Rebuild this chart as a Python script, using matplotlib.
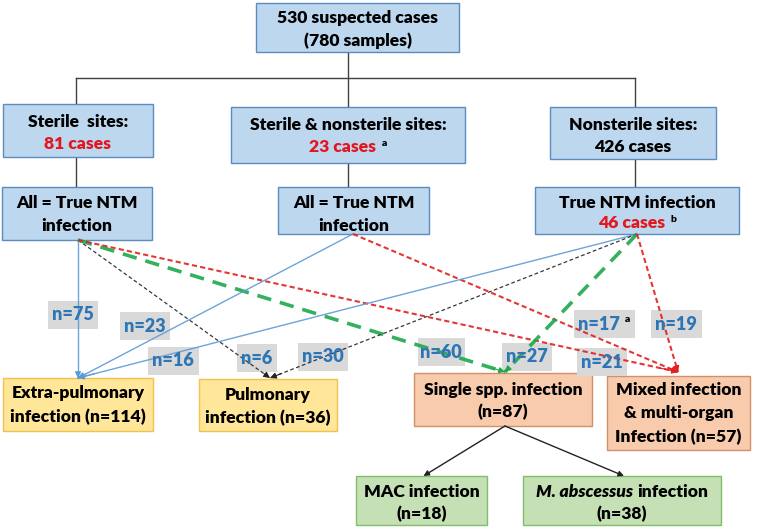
import matplotlib
matplotlib.use("Agg")
import matplotlib.pyplot as plt
from matplotlib.patches import Rectangle

plt.rcParams['font.family'] = ['Lato', 'DejaVu Sans']

# ---- data ----
top_lines = ["530 suspected cases", "(780 samples)"]
site_titles = ["Sterile  sites:", "Sterile & nonsterile sites:", "Nonsterile sites:"]
site_cases = ["81 cases", "23 cases", "426 cases"]
site_case_red = [True, True, False]
site_case_sup = ["", "a", ""]
ntm_lines = [["All = True NTM", "infection"], ["All = True NTM", "infection"], ["True NTM infection", "46 cases"]]
ntm_sup = ["", "", "b"]
outcome_lines = [["Extra-pulmonary", "infection (n=114)"],
                 ["Pulmonary", "infection (n=36)"],
                 ["Single spp. infection", "(n=87)"],
                 ["Mixed infection", "& multi-organ", "Infection (n=57)"]]
species_lines = [["MAC infection", "(n=18)"], ["M. abscessus", "(n=38)"]]

# edges from site group (0,1,2) to outcome (0..3) with counts
edge_src = [0, 0, 0, 0, 1, 1, 2, 2, 2, 2]
edge_dst = [0, 1, 2, 3, 0, 3, 0, 1, 2, 3]
edge_n = [75, 6, 60, 21, 23, 17, 16, 30, 27, 19]
edge_sup = ["", "", "", "", "", "a", "", "", "", ""]

# ---- layout (pixel units) ----
W, H = 759, 531
top_box = (256, 3, 459, 52)
site_boxes = [(3, 104, 153, 157), (231, 107, 465, 163), (550, 107, 716, 159)]
ntm_boxes = [(2, 187, 152, 240), (278, 187, 429, 234), (535, 187, 739, 234)]
out_boxes = [(3, 378, 153, 431), (199, 379, 337, 431), (414, 373, 592, 426), (607, 376, 750, 450)]
spec_boxes = [(356, 476, 487, 525), (523, 476, 721, 525)]
src_pts = [(78, 240), (353, 234), (637, 234)]
dst_pts = [(78, 378), (270, 378), (505, 372), (678, 372)]
label_pos = [(73, 315), (257, 358), (441, 352), (602, 362), (145, 326),
             (604, 324), (173, 361), (323, 357), (527, 357), (676, 324)]
label_w = [50, 40, 47, 50, 50, 61, 51, 50, 50, 51]

BLUE = ('#BDD7EE', '#5B8BC0')
YEL = ('#FFE699', '#F2C14E')
ORA = ('#F8CBAD', '#D39068')
GRN = ('#C5E0B4', '#82BD6C')
RED = '#E3161F'
LBLUE = '#2E75B6'
edge_style = {0: dict(color='#5B9BD5', lw=1.0, ls='-'),
              1: dict(color='#222222', lw=0.9, ls=(0, (3, 2))),
              2: dict(color='#1FA84A', lw=2.6, ls=(0, (4, 2.5))),
              3: dict(color='#E32020', lw=1.5, ls=(0, (2.5, 1.5)))}

fig = plt.figure(figsize=(W / 100, H / 100), dpi=100)
ax = fig.add_axes([0, 0, 1, 1])
ax.set_xlim(0, W)
ax.set_ylim(H, 0)
ax.axis('off')
fig.canvas.draw()
renderer = fig.canvas.get_renderer()

FS = 12.6
WT = 'heavy'


def box(b, colors):
    x0, y0, x1, y1 = b
    ax.add_patch(Rectangle((x0, y0), x1 - x0, y1 - y0, facecolor=colors[0],
                           edgecolor=colors[1], lw=1.0, zorder=2))


def rich(x, y, segs, size=FS):
    # segs: list of (text, kwargs); centred on x, vertically centred on y
    arts = []
    for s, kw in segs:
        t = ax.text(0, y, s, fontsize=kw.get('size', size), fontweight=WT,
                    color=kw.get('color', 'black'), style=kw.get('style', 'normal'),
                    va=kw.get('va', 'center'), ha='left', zorder=6)
        arts.append((t, kw))
    widths = [t.get_window_extent(renderer).width for t, _ in arts]
    gaps = [kw.get('gap', 0) for _, kw in arts]
    total = sum(widths) + sum(gaps)
    cx = x - total / 2
    for (t, kw), w, g in zip(arts, widths, gaps):
        cx += g
        t.set_x(cx)
        if 'dy' in kw:
            t.set_y(y + kw['dy'])
        cx += w


def lines_in(b, lines, ys):
    cx = (b[0] + b[2]) / 2
    for ln, yy in zip(lines, ys):
        rich(cx, yy, [(ln, {})])


# tree connectors
conn = dict(color='#404040', lw=1.0, zorder=1)
ax.plot([348, 348], [52, 107], **conn)
ax.plot([76, 635], [78, 78], **conn)
ax.plot([76, 76], [78, 104], **conn)
ax.plot([635, 635], [78, 107], **conn)
ax.plot([76, 76], [157, 187], **conn)
ax.plot([348, 348], [163, 187], **conn)
ax.plot([635, 635], [159, 187], **conn)

# boxes
box(top_box, BLUE)
lines_in(top_box, top_lines, [18, 41])
for i, b in enumerate(site_boxes):
    box(b, BLUE)
    cx = (b[0] + b[2]) / 2
    rich(cx, b[1] + 18, [(site_titles[i], {})])
    segs = [(site_cases[i], {'color': RED if site_case_red[i] else 'black'})]
    if site_case_sup[i]:
        segs.append((site_case_sup[i], {'size': 7.5, 'gap': 5, 'dy': -4}))
    rich(cx, b[1] + 40, segs)
for i, b in enumerate(ntm_boxes):
    box(b, BLUE)
    cx = (b[0] + b[2]) / 2
    rich(cx, 203, [(ntm_lines[i][0], {})])
    if ntm_sup[i]:
        rich(cx, 223, [(ntm_lines[i][1], {'color': RED}), (ntm_sup[i], {'size': 7.5, 'gap': 5, 'dy': -4})])
    else:
        rich(cx, 226, [(ntm_lines[i][1], {})])

out_colors = [YEL, YEL, ORA, ORA]
out_ys = [[393, 417], [395, 418], [390, 412], [390, 413, 437]]
for b, c, ln, ys in zip(out_boxes, out_colors, outcome_lines, out_ys):
    box(b, c)
    lines_in(b, ln, ys)

box(spec_boxes[0], GRN)
lines_in(spec_boxes[0], species_lines[0], [492, 514])
box(spec_boxes[1], GRN)
cx = (spec_boxes[1][0] + spec_boxes[1][2]) / 2
rich(cx, 492, [(species_lines[1][0], {'style': 'italic'}), ("infection", {'gap': 5})])
rich(cx, 514, [(species_lines[1][1], {})])

# species arrows
for b in spec_boxes:
    ax.annotate("", xy=((b[0] + b[2]) / 2 + 2, b[1]), xytext=(505, 426),
                arrowprops=dict(arrowstyle='-|>', color='#222222', lw=1.0,
                                mutation_scale=8, shrinkA=0, shrinkB=0), zorder=3)

# edge labels (gray boxes)
for (lx, ly), w, n, sup in zip(label_pos, label_w, edge_n, edge_sup):
    ax.add_patch(Rectangle((lx - w / 2, ly - 14), w, 28, facecolor='#D9D9D9',
                           edgecolor='none', zorder=2.5))
    segs = [("n=%d" % n, {'color': LBLUE})]
    if sup:
        segs.append((sup, {'size': 7.5, 'gap': 5, 'dy': -4}))
    rich(lx, ly, segs, size=13)

# flow edges
for s, d in zip(edge_src, edge_dst):
    st = edge_style[d]
    x0, y0 = src_pts[s]
    x1, y1 = dst_pts[d]
    ax.plot([x0, x1], [y0, y1], color=st['color'], lw=st['lw'], ls=st['ls'],
            zorder=4, alpha=0.9)
    # arrow head
    fx = x1 - (x1 - x0) * 0.03
    fy = y1 - (y1 - y0) * 0.03
    ax.annotate("", xy=(x1, y1), xytext=(fx, fy),
                arrowprops=dict(arrowstyle='-|>', color=st['color'], lw=0.8,
                                mutation_scale=9, shrinkA=0, shrinkB=0), zorder=4)

fig.savefig("out.png", dpi=100)
